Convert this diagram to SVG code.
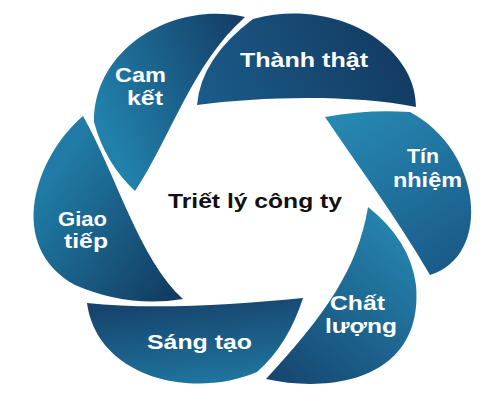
<svg xmlns="http://www.w3.org/2000/svg" width="500" height="414" viewBox="0 0 500 414">
<defs>
<linearGradient id="gCam" gradientUnits="userSpaceOnUse" x1="95" y1="110" x2="245" y2="40"><stop offset="0" stop-color="#2181ab"/><stop offset="1" stop-color="#143f68"/></linearGradient>
<linearGradient id="gThanh" gradientUnits="userSpaceOnUse" x1="210" y1="110" x2="400" y2="25"><stop offset="0" stop-color="#1b5a88"/><stop offset="1" stop-color="#123a60"/></linearGradient>
<linearGradient id="gTin" gradientUnits="userSpaceOnUse" x1="340" y1="115" x2="440" y2="275"><stop offset="0" stop-color="#2689b3"/><stop offset="1" stop-color="#1a5a88"/></linearGradient>
<linearGradient id="gChat" gradientUnits="userSpaceOnUse" x1="405" y1="225" x2="275" y2="380"><stop offset="0" stop-color="#2586b0"/><stop offset="1" stop-color="#154670"/></linearGradient>
<linearGradient id="gSang" gradientUnits="userSpaceOnUse" x1="200" y1="298" x2="210" y2="390"><stop offset="0" stop-color="#16446d"/><stop offset="1" stop-color="#2079a3"/></linearGradient>
<linearGradient id="gGiao" gradientUnits="userSpaceOnUse" x1="40" y1="190" x2="180" y2="290"><stop offset="0" stop-color="#207ca6"/><stop offset="1" stop-color="#123b60"/></linearGradient>
</defs>
<style>
.lbl{font-family:"Liberation Sans",Arial,sans-serif;font-weight:bold;font-size:21px;fill:#ffffff;text-anchor:middle}
.ttl{font-family:"Liberation Sans",Arial,sans-serif;font-weight:bold;font-size:21px;fill:#111111;text-anchor:middle}
</style>
<rect width="500" height="414" fill="#ffffff"/>
<g id="connectors"/>
<g id="node-thanh-that">
<path d="M197,105 C260,97 350,94 416,107 C416,45 335,-3 253,19 Q201,58 197,105 Z" fill="url(#gThanh)"/>
<text class="lbl" x="304" y="67" textLength="128" lengthAdjust="spacingAndGlyphs">Thành thật</text>
</g>
<g id="node-cam-ket">
<path d="M135,191 C171.7,136 191.8,64.5 245,17 C177,1 94,45 94,122 Q105,163 135,191 Z" fill="url(#gCam)"/>
<text class="lbl" x="140.5" y="82" textLength="51" lengthAdjust="spacingAndGlyphs">Cam</text>
<text class="lbl" x="145" y="105" textLength="36" lengthAdjust="spacingAndGlyphs">kết</text>
</g>
<g id="node-tin-nhiem">
<path d="M325,117 C356,163 395,215 430,275 C493,256 482,150 410,112 Q368,109 325,117 Z" fill="url(#gTin)"/>
<text class="lbl" x="423" y="163" textLength="32" lengthAdjust="spacingAndGlyphs">Tín</text>
<text class="lbl" x="427.5" y="187" textLength="69" lengthAdjust="spacingAndGlyphs">nhiệm</text>
</g>
<g id="node-chat-luong">
<path d="M368,207 C358,269 324,316 266,379 C334,394 424,378 416,285 Q410,240 368,207 Z" fill="url(#gChat)"/>
<text class="lbl" x="357.5" y="310" textLength="55" lengthAdjust="spacingAndGlyphs">Chất</text>
<text class="lbl" x="361" y="333" textLength="72" lengthAdjust="spacingAndGlyphs">lượng</text>
</g>
<g id="node-sang-tao">
<path d="M303,298 C230,305 150,310 87,303 C97,377 191,400 257,372 Q288,345 303,298 Z" fill="url(#gSang)"/>
<text class="lbl" x="199.5" y="349" textLength="105" lengthAdjust="spacingAndGlyphs">Sáng tạo</text>
</g>
<g id="node-giao-tiep">
<path d="M183,299 C139.5,260 115.5,173 83,116 C35,157 5,246 75,285 Q128,308 183,299 Z" fill="url(#gGiao)"/>
<text class="lbl" x="82.5" y="226" textLength="49" lengthAdjust="spacingAndGlyphs">Giao</text>
<text class="lbl" x="86" y="248" textLength="44" lengthAdjust="spacingAndGlyphs">tiếp</text>
</g>
<g id="node-center">
<text class="ttl" x="255" y="208" textLength="174" lengthAdjust="spacingAndGlyphs">Triết lý công ty</text>
</g>
</svg>
